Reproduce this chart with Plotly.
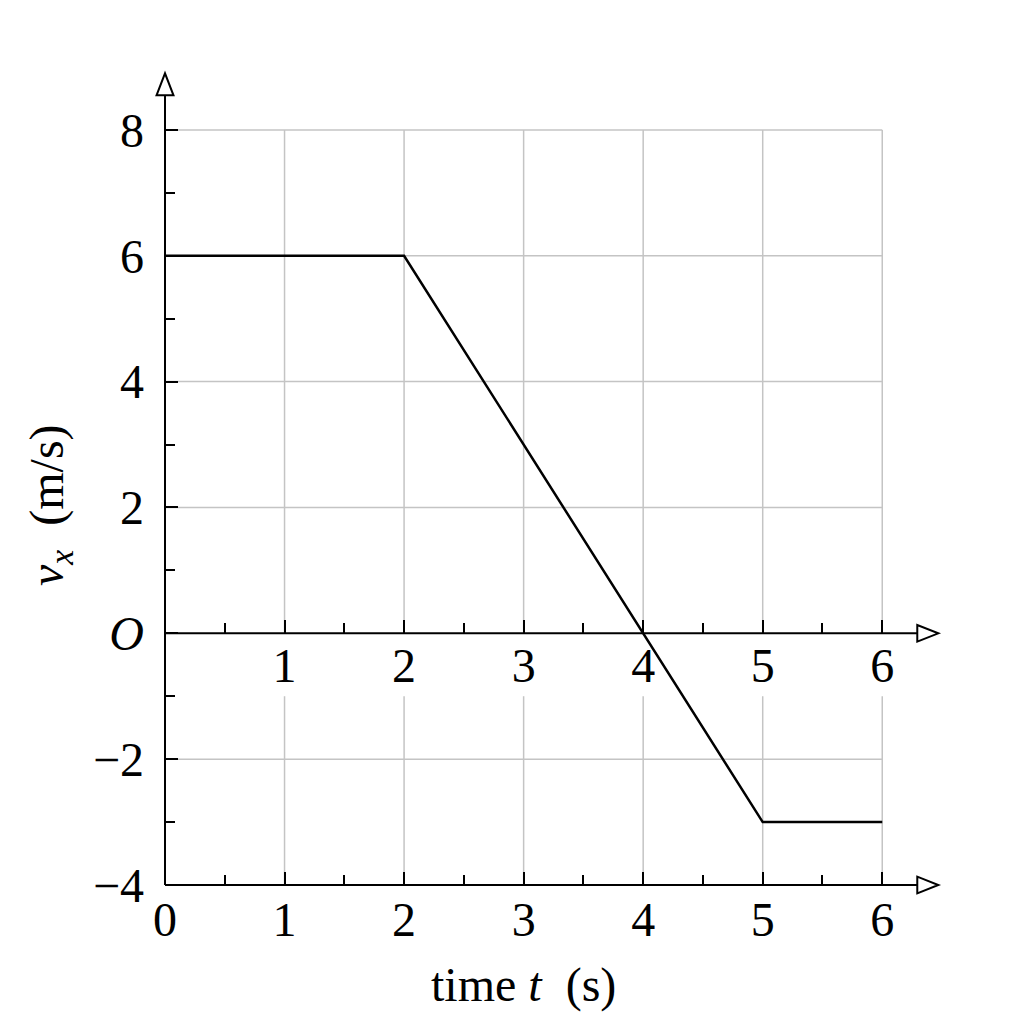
import plotly.graph_objects as go

# data
t_vals = [0, 2, 5, 6]
v_vals = [6, 6, -3, -3]
y_major = [8, 6, 4, 2, 0, -2, -4]
y_major_text = ["8", "6", "4", "2", "<i>O</i>", "−2", "−4"]
y_minor = [7, 5, 3, 1, -1, -3]
x_major = [0, 1, 2, 3, 4, 5, 6]
x_major_text = ["0", "1", "2", "3", "4", "5", "6"]
x_mid_major = [1, 2, 3, 4, 5, 6]
x_minor = [0.5, 1.5, 2.5, 3.5, 4.5, 5.5]
grid_y = [8, 6, 4, 2, -2]
grid_x = [1, 2, 3, 4, 5, 6]

FONT = "Liberation Serif"
FS = 48
GRID = "#c4c4c4"
XR = [0, 6.55]
YR = [-4, 9]


def px(x):
    return (x - XR[0]) / (XR[1] - XR[0])


def py(y):
    return (y - YR[0]) / (YR[1] - YR[0])


fig = go.Figure()
fig.add_trace(go.Scatter(x=t_vals, y=v_vals, mode="lines",
                         line=dict(color="black", width=2.5), showlegend=False,
                         cliponaxis=False))

shapes = []
for g in grid_y:
    shapes.append(dict(type="line", xref="x", yref="y", x0=0, x1=6, y0=g, y1=g,
                       line=dict(color=GRID, width=1.5), layer="below"))
for g in grid_x:
    shapes.append(dict(type="line", xref="x", yref="y", x0=g, x1=g, y0=0, y1=8,
                       line=dict(color=GRID, width=1.5), layer="below"))
    shapes.append(dict(type="line", xref="x", yref="y", x0=g, x1=g, y0=-4, y1=-1,
                       line=dict(color=GRID, width=1.5), layer="below"))
# axis lines (paper coords, so they are not clipped)
ax_line = dict(color="black", width=2)
shapes.append(dict(type="line", xref="paper", yref="paper", x0=px(0), x1=px(0),
                   y0=py(-4), y1=py(8.55), line=ax_line))
for yy in (0, -4):
    shapes.append(dict(type="line", xref="paper", yref="paper", x0=px(0), x1=px(6.293),
                       y0=py(yy), y1=py(yy), line=ax_line))
# hollow arrow heads
hw = 0.071
shapes.append(dict(type="path", xref="paper", yref="paper",
                   path=f"M {px(-hw)},{py(8.55)} L {px(0)},{py(8.9)} L {px(hw)},{py(8.55)} Z",
                   fillcolor="white", line=dict(color="black", width=2)))
hh = 0.132
for yy in (0, -4):
    shapes.append(dict(type="path", xref="paper", yref="paper",
                       path=f"M {px(6.293)},{py(yy-hh)} L {px(6.469)},{py(yy)} L {px(6.293)},{py(yy+hh)} Z",
                       fillcolor="white", line=dict(color="black", width=2)))

tickfont = dict(family=FONT, size=FS, color="black")

fig.update_layout(
    width=1024, height=1024,
    margin=dict(l=157, r=84, t=59, b=147),
    plot_bgcolor="white", paper_bgcolor="white",
    shapes=shapes,
    xaxis=dict(range=XR, showgrid=False, zeroline=False, showline=False, automargin=False,
               tickmode="array", tickvals=x_major, ticktext=x_major_text,
               ticks="inside", ticklen=13, tickwidth=2, tickcolor="black",
               tickfont=tickfont, ticklabelstandoff=2,
               minor=dict(tickvals=x_minor, ticks="inside", ticklen=10,
                          tickwidth=2, tickcolor="black", showgrid=False)),
    xaxis2=dict(range=XR, overlaying="x", anchor="free", position=4/13, automargin=False,
                side="bottom", showgrid=False, zeroline=False, showline=False,
                tickmode="array", tickvals=x_mid_major, ticktext=x_major_text[1:],
                ticks="inside", ticklen=13, tickwidth=2, tickcolor="black",
                tickfont=tickfont, ticklabelstandoff=0,
                minor=dict(tickvals=x_minor, ticks="inside", ticklen=10,
                           tickwidth=2, tickcolor="black", showgrid=False)),
    yaxis=dict(range=YR, showgrid=False, zeroline=False, showline=False, automargin=False,
               tickmode="array", tickvals=y_major, ticktext=y_major_text,
               ticks="inside", ticklen=13, tickwidth=2, tickcolor="black",
               tickfont=tickfont, ticklabelstandoff=20,
               minor=dict(tickvals=y_minor, ticks="inside", ticklen=10,
                          tickwidth=2, tickcolor="black", showgrid=False)),
    annotations=[
        dict(text="time <i>t</i>  (s)", xref="x", yref="paper", x=3, y=-0.122,
             showarrow=False, font=tickfont, xanchor="center", yanchor="middle"),
        dict(text="<i>v<sub>x</sub></i>  (m/s)", xref="paper", yref="paper",
             x=-0.147, y=0.4645, textangle=-90, showarrow=False, font=tickfont,
             xanchor="center", yanchor="middle"),
    ],
)
# invisible trace that activates the middle axis
fig.add_trace(go.Scatter(x=[None], y=[None], xaxis="x2", showlegend=False, hoverinfo="skip"))

fig.write_html("out.html")
